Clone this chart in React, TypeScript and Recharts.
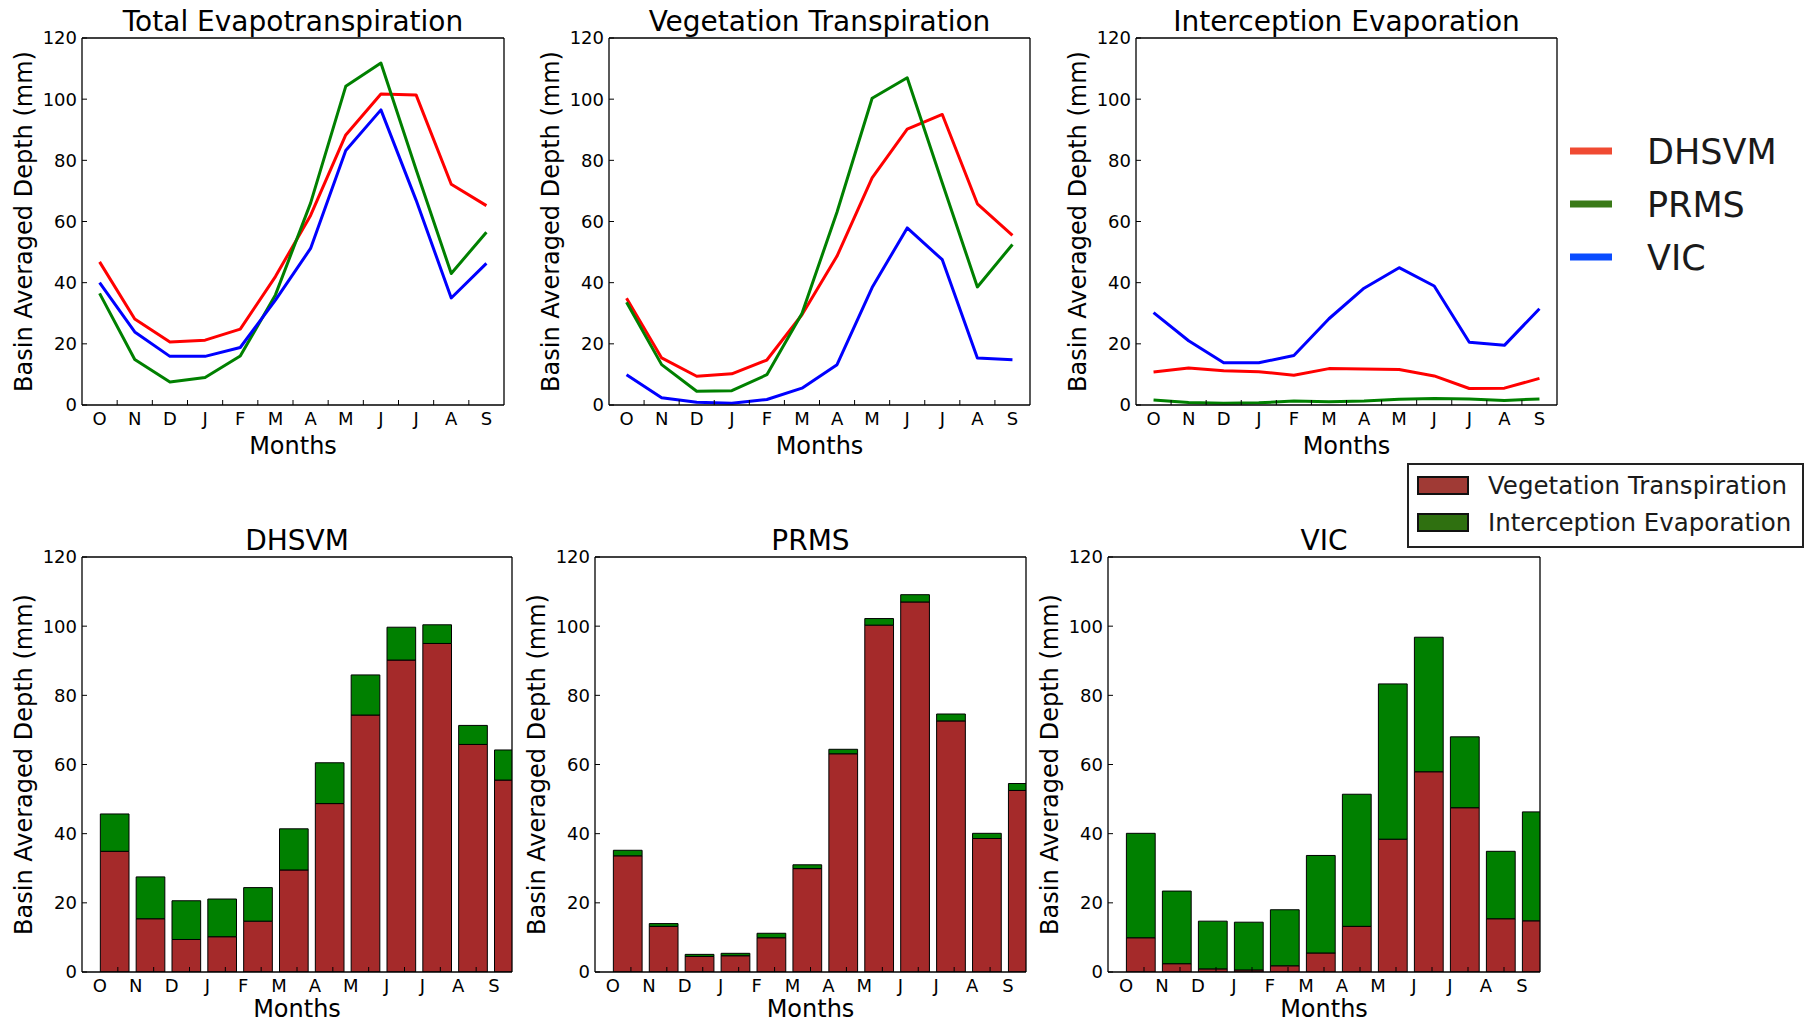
import React from 'react';
import { LineChart, Line, BarChart, Bar, XAxis, YAxis } from 'recharts';

const months = ['O', 'N', 'D', 'J', 'F', 'M', 'A', 'M', 'J', 'J', 'A', 'S'];
const yTicks = [0, 20, 40, 60, 80, 100, 120];

// Total evapotranspiration (mm)
const totalDhsvm = [46.8, 28.1, 20.6, 21.2, 24.8, 42.0, 62.0, 88.3, 101.7, 101.4, 72.2, 65.2];
const totalPrms = [36.5, 14.9, 7.5, 9.0, 16.0, 36.0, 66.0, 104.2, 111.8, 77.0, 43.0, 56.5];
const totalVic = [40.0, 23.9, 15.9, 15.9, 18.8, 34.3, 51.2, 83.2, 96.5, 67.0, 35.0, 46.3];

// Vegetation transpiration (mm)
const vegDhsvm = [34.9, 15.4, 9.4, 10.2, 14.7, 29.5, 48.7, 74.3, 90.2, 95.0, 65.8, 55.5];
const vegPrms = [33.6, 13.2, 4.5, 4.7, 9.9, 29.9, 63.1, 100.3, 107.0, 72.6, 38.6, 52.5];
const vegVic = [9.9, 2.4, 0.9, 0.6, 1.8, 5.5, 13.2, 38.4, 57.9, 47.5, 15.4, 14.8];

// Interception evaporation (mm)
const icpDhsvm = [10.8, 12.1, 11.2, 10.9, 9.7, 11.9, 11.8, 11.6, 9.5, 5.4, 5.5, 8.7];
const icpPrms = [1.6, 0.8, 0.6, 0.7, 1.3, 1.1, 1.3, 1.9, 2.1, 2.0, 1.5, 2.0];
const icpVic = [30.2, 21.0, 13.8, 13.8, 16.2, 28.2, 38.2, 44.9, 38.9, 20.5, 19.5, 31.5];

const FONT = '"DejaVu Sans", Verdana, sans-serif';
const BAR_W = 0.8;

// tick positions: labels at integers, marks between them
const xTicks = months.flatMap((_, i) => (i < months.length - 1 ? [i, i + 0.5] : [i]));
const xMarks = months.slice(0, -1).map((_, i) => i + 0.5);

const lineRows = (a: number[], b: number[], c: number[]) =>
  months.map((m, i) => ({ x: i, dhsvm: a[i], prms: b[i], vic: c[i] }));

const barRows = (veg: number[], icp: number[]) =>
  months.map((m, i) => ({ x: i + BAR_W / 2, veg: veg[i], icp: icp[i] }));

type Box = { x: number; y: number; w: number; h: number };

const boxes: Record<string, Box> = {
  total: { x: 82, y: 38, w: 422, h: 367 },
  veg: { x: 609, y: 38, w: 421, h: 367 },
  icp: { x: 1136, y: 38, w: 421, h: 367 },
  dhsvm: { x: 82, y: 557, w: 430, h: 415 },
  prms: { x: 595, y: 557, w: 431, h: 415 },
  vic: { x: 1108, y: 557, w: 432, h: 415 },
};

const BottomTick = (props: any) => {
  const { x, y, payload } = props;
  const v = payload.value;
  if (Number.isInteger(v)) {
    return (
      <text x={x} y={y + 20} textAnchor="middle" fontSize={18} fontFamily={FONT} fill="#000">
        {months[v]}
      </text>
    );
  }
  return <line x1={x} y1={y} x2={x} y2={y - 5} stroke="#000" strokeWidth={1} />;
};

const LeftTick = (props: any) => {
  const { x, y, payload } = props;
  return (
    <g>
      <line x1={x} y1={y} x2={x + 5} y2={y} stroke="#000" strokeWidth={1} />
      <text x={x - 5} y={y} dy="0.36em" textAnchor="end" fontSize={18} fontFamily={FONT} fill="#000">
        {payload.value}
      </text>
    </g>
  );
};

const frameLine = { stroke: '#000', strokeWidth: 1.3 };
const markLine = { stroke: '#000', strokeWidth: 1 };

const axes = () => [
  <XAxis
    key="xb" xAxisId="b" type="number" dataKey="x" domain={[-0.5, 11.5]} allowDataOverflow
    ticks={xTicks} interval={0} tickSize={0} tickMargin={0} height={30}
    tick={<BottomTick />} tickLine={false} axisLine={frameLine}
  />,
  <XAxis
    key="xt" xAxisId="t" orientation="top" mirror type="number" dataKey="x" domain={[-0.5, 11.5]} allowDataOverflow
    ticks={xMarks} interval={0} tickSize={5} height={20}
    tick={false} tickLine={markLine} axisLine={frameLine}
  />,
  <YAxis
    key="yl" yAxisId="l" type="number" domain={[0, 120]} allowDataOverflow
    ticks={yTicks} interval={0} tickSize={0} tickMargin={0} width={80}
    tick={<LeftTick />} tickLine={false} axisLine={frameLine}
  />,
  <YAxis
    key="yr" yAxisId="r" orientation="right" mirror type="number" domain={[0, 120]} allowDataOverflow
    ticks={yTicks} interval={0} tickSize={5} width={20}
    tick={false} tickLine={markLine} axisLine={frameLine}
  />,
];

const chartPos = (b: Box): React.CSSProperties => ({
  position: 'absolute',
  left: b.x - 80,
  top: b.y - 10,
});

const margin = { top: 10, right: 10, bottom: 0, left: 0 };

const LinePanel = ({ box, a, b, c }: { box: Box; a: number[]; b: number[]; c: number[] }) => (
  <div style={chartPos(box)}>
    <LineChart width={box.w + 90} height={box.h + 40} data={lineRows(a, b, c)} margin={margin}>
      {axes()}
      <Line xAxisId="b" yAxisId="l" dataKey="dhsvm" stroke="#ff0000" strokeWidth={3} dot={false}
        isAnimationActive={false} strokeLinejoin="round" />
      <Line xAxisId="b" yAxisId="l" dataKey="prms" stroke="#008000" strokeWidth={3} dot={false}
        isAnimationActive={false} strokeLinejoin="round" />
      <Line xAxisId="b" yAxisId="l" dataKey="vic" stroke="#0000ff" strokeWidth={3} dot={false}
        isAnimationActive={false} strokeLinejoin="round" />
    </LineChart>
  </div>
);

const BarPanel = ({ box, veg, icp }: { box: Box; veg: number[]; icp: number[] }) => (
  <div style={chartPos(box)}>
    <BarChart width={box.w + 90} height={box.h + 40} data={barRows(veg, icp)} margin={margin}>
      <Bar xAxisId="b" yAxisId="l" dataKey="veg" stackId="s" fill="#a52a2a" stroke="#000" strokeWidth={1}
        barSize={(BAR_W * box.w) / 12} isAnimationActive={false} />
      <Bar xAxisId="b" yAxisId="l" dataKey="icp" stackId="s" fill="#008000" stroke="#000" strokeWidth={1}
        barSize={(BAR_W * box.w) / 12} isAnimationActive={false} />
      {axes()}
    </BarChart>
  </div>
);

const PanelText = ({ box, title }: { box: Box; title: string }) => {
  const cx = box.x + box.w / 2;
  const cy = box.y + box.h / 2;
  const lx = box.x - 59;
  // keep the x label inside the 1024px page
  const my = Math.min(box.y + box.h + 49, 1017);
  return (
    <g fontFamily={FONT} fill="#000">
      <text x={cx} y={box.y - 7} textAnchor="middle" fontSize={28}>{title}</text>
      <text x={cx} y={my} textAnchor="middle" fontSize={24}>Months</text>
      <text x={lx} y={cy} textAnchor="middle" dy="0.36em" fontSize={24} transform={`rotate(-90 ${lx} ${cy})`}>
        Basin Averaged Depth (mm)
      </text>
    </g>
  );
};

const lineLegend = [
  { name: 'DHSVM', color: '#f04a32' },
  { name: 'PRMS', color: '#3a7a18' },
  { name: 'VIC', color: '#0a4cff' },
];

const barLegend = [
  { name: 'Vegetation Transpiration', color: '#a03a35' },
  { name: 'Interception Evaporation', color: '#2f7010' },
];

export default function App() {
  return (
    <div style={{ position: 'absolute', left: 0, top: 0, width: 1809, height: 1024, background: '#fff' }}>
      <LinePanel box={boxes.total} a={totalDhsvm} b={totalPrms} c={totalVic} />
      <LinePanel box={boxes.veg} a={vegDhsvm} b={vegPrms} c={vegVic} />
      <LinePanel box={boxes.icp} a={icpDhsvm} b={icpPrms} c={icpVic} />
      <BarPanel box={boxes.dhsvm} veg={vegDhsvm} icp={icpDhsvm} />
      <BarPanel box={boxes.prms} veg={vegPrms} icp={icpPrms} />
      <BarPanel box={boxes.vic} veg={vegVic} icp={icpVic} />
      <svg width={1809} height={1024} style={{ position: 'absolute', left: 0, top: 0, pointerEvents: 'none' }}>
        <PanelText box={boxes.total} title="Total Evapotranspiration" />
        <PanelText box={boxes.veg} title="Vegetation Transpiration" />
        <PanelText box={boxes.icp} title="Interception Evaporation" />
        <PanelText box={boxes.dhsvm} title="DHSVM" />
        <PanelText box={boxes.prms} title="PRMS" />
        <PanelText box={boxes.vic} title="VIC" />

        <g fontFamily={FONT} fill="#1a1a1a">
          {lineLegend.map((d, i) => (
            <g key={d.name}>
              <line x1={1570} x2={1612} y1={151 + i * 53} y2={151 + i * 53} stroke={d.color} strokeWidth={7} />
              <text x={1647} y={151 + i * 53} dy="0.36em" fontSize={35}>{d.name}</text>
            </g>
          ))}
        </g>

        <g fontFamily={FONT}>
          <rect x={1408} y={464} width={395} height={83} fill="#fff" stroke="#222" strokeWidth={2} />
          {barLegend.map((d, i) => (
            <g key={d.name}>
              <rect x={1418} y={477 + i * 37} width={50} height={17} fill={d.color} stroke="#111" strokeWidth={2} />
              <text x={1488} y={485 + i * 37} dy="0.36em" fontSize={24.5} fill="#1a1a1a">{d.name}</text>
            </g>
          ))}
        </g>
      </svg>
    </div>
  );
}
